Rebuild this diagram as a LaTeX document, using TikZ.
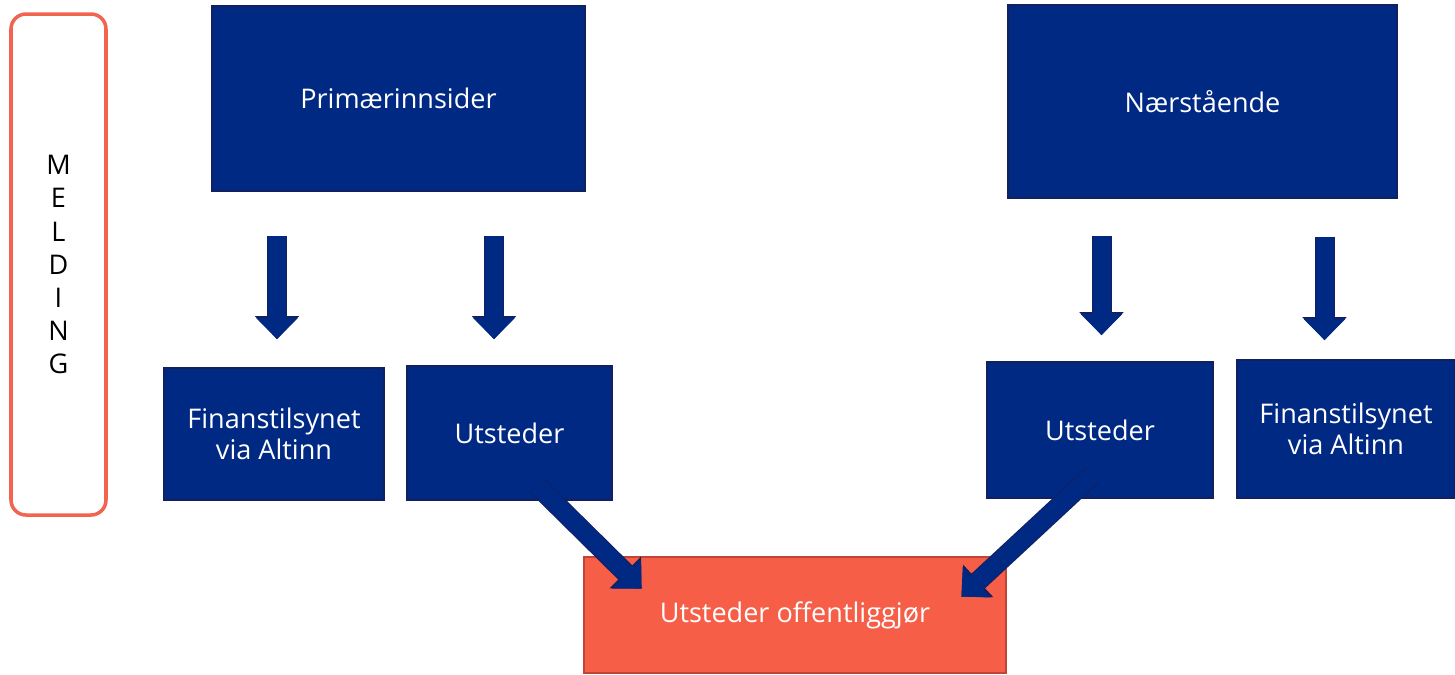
\documentclass[tikz,border=0pt]{standalone}
\usepackage{fontspec}
\setmainfont{Open Sans}
\usetikzlibrary{arrows.meta,calc}

\definecolor{navy}{RGB}{0,41,132}
\definecolor{navyline}{RGB}{18,32,95}
\definecolor{coral}{RGB}{246,94,72}
\definecolor{coralline}{RGB}{190,70,55}
\definecolor{meldline}{RGB}{240,100,80}

\tikzset{
  bluebox/.style={draw=navyline, fill=navy, text=white, line width=0.5pt,
    inner sep=0pt, align=center, font=\fontsize{7.7}{8.8}\selectfont},
  redbox/.style={draw=coralline, fill=coral, text=white, line width=0.8pt,
    inner sep=0pt, align=center, font=\fontsize{7.7}{8.8}\selectfont},
  blockarr/.style={draw=navy, line width=0.18cm,
    -{Triangle[width=0.4cm, length=0.21cm]},
    preaction={draw=navyline, line width=0.2cm,
      -{Triangle[width=0.43cm, length=0.23cm]}}},
}

\begin{document}
\begin{tikzpicture}[x=1cm, y=-1cm]

  \useasboundingbox (0,0) rectangle (14.55,6.74);

  % Melding label on the left
  \node[draw=meldline, line width=1pt, rounded corners=0.15cm,
        minimum width=0.95cm, minimum height=5.01cm, inner sep=0pt,
        align=center, font=\fontsize{7.7}{9.4}\selectfont]
        (meld) at (0.585,2.645) {M\\E\\L\\D\\I\\N\\G};

  % The two who report
  \node[bluebox, minimum width=3.73cm, minimum height=1.85cm] (prim) at (3.985,0.985) {Primærinnsider};
  \node[bluebox, minimum width=3.89cm, minimum height=1.93cm] (naer) at (12.025,1.015) {Nærstående};

  % Receivers
  \node[bluebox, minimum width=2.20cm, minimum height=1.32cm] (finl) at (2.74,4.34) {Finanstilsynet\\via Altinn};
  \node[bluebox, minimum width=2.05cm, minimum height=1.34cm] (utl) at (5.095,4.33) {Utsteder};
  \node[bluebox, minimum width=2.26cm, minimum height=1.36cm] (utr) at (11.00,4.30) {Utsteder};
  \node[bluebox, minimum width=2.18cm, minimum height=1.38cm] (finr) at (13.46,4.29) {Finanstilsynet\\via Altinn};

  % Publishing
  \node[redbox, minimum width=4.22cm, minimum height=1.16cm] (pub) at (7.95,6.15) {Utsteder offentliggjør};

  % Arrows down
  \draw[blockarr] ([xshift=0.03cm,yshift=-0.44cm]prim.south -| finl.north) -- ([xshift=0.03cm,yshift=0.28cm]finl.north);
  \draw[blockarr] ([xshift=-0.155cm,yshift=-0.44cm]prim.south -| utl.north) -- ([xshift=-0.155cm,yshift=0.26cm]utl.north);
  \draw[blockarr] ([xshift=0.015cm,yshift=-0.37cm]naer.south -| utr.north) -- ([xshift=0.015cm,yshift=0.26cm]utr.north);
  \draw[blockarr] ([xshift=-0.215cm,yshift=-0.38cm]naer.south -| finr.north) -- ([xshift=-0.215cm,yshift=0.19cm]finr.north);

  % Arrows to the publishing box
  \draw[blockarr] ([xshift=0.27cm,yshift=0.16cm]utl.south) -- ([xshift=0.59cm,yshift=-0.33cm]pub.north west);
  \draw[blockarr] ([xshift=-0.075cm,yshift=0.24cm]utr.south) -- ([xshift=-0.46cm,yshift=-0.41cm]pub.north east);

\end{tikzpicture}
\end{document}
